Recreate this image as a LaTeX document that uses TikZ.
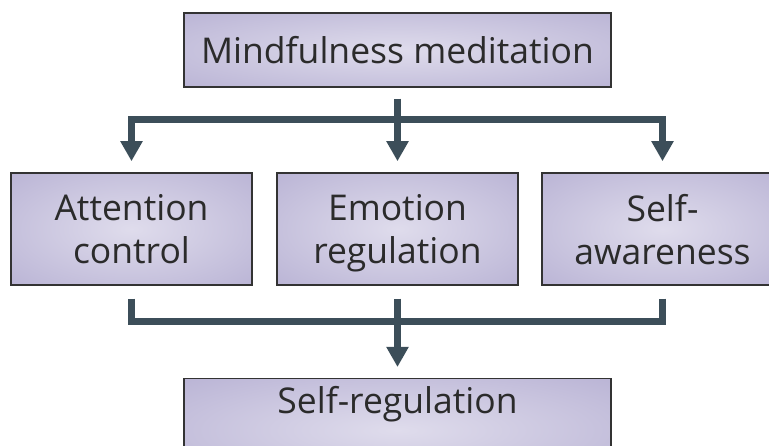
\documentclass[tikz,border=0pt]{standalone}
\usepackage{fontspec}
\setmainfont{Open Sans}
\usepackage{tikz}
\usetikzlibrary{arrows.meta,positioning}

\definecolor{boxin}{HTML}{DFDCEC}
\definecolor{boxout}{HTML}{B8B2D4}
\definecolor{boxline}{HTML}{333333}
\definecolor{linkc}{HTML}{3C4E59}
\definecolor{textc}{HTML}{2B2B2B}

\pgfdeclareradialshading{boxglow}{\pgfpointorigin}{color(0bp)=(boxin); color(38bp)=(boxout); color(75bp)=(boxout)}

\begin{document}
\begin{tikzpicture}[x=1pt,y=-1pt]
          %% mindfulness scheme

          \tikzstyle{every node}=[text=textc, font=\fontsize{35.5}{43}\selectfont]
          \tikzstyle{box}=[draw=boxline, line width=1.5pt, shading=boxglow, align=center, inner sep=0pt]
          \tikzstyle{midbox}=[box, minimum width=241pt, minimum height=112pt, text depth=0pt]
          \tikzstyle{link}=[draw=linkc, line width=7pt]
          \tikzstyle{arrow}=[link, -{Triangle[width=21pt,length=20pt]}, shorten >=11pt]

          \useasboundingbox (0,0) rectangle (769,446);

          % top
          \node[box, minimum width=427pt, minimum height=74pt] (mind) at (397.5,50) {Mindfulness meditation};

          % middle row
          \node[midbox] (attn) at (131.5,229) {Attention\\control};
          \node[midbox] (emot) at (397.5,229) {Emotion\\regulation};
          \node[midbox] (aware) at (662.5,229) {Self-\\awareness};

          % bottom
          \node[box, minimum width=427pt, anchor=north, inner ysep=8pt, text height=27pt, text depth=60pt] (selfreg) at (397.5,378) {Self-regulation};

          % split
          \coordinate (splitT) at (397.5,120);
          \path[arrow, shorten <=11pt] (mind.south) -- (emot.north);
          \path[arrow] (splitT) -| (attn.north);
          \path[arrow] (splitT) -| (aware.north);

          % join
          \coordinate (joinB) at (397.5,322);
          \path[link, shorten <=13pt] (attn.south) |- (joinB);
          \path[link, shorten <=13pt] (aware.south) |- (joinB);
          \path[arrow, shorten <=13pt] (emot.south) -- (selfreg.north);

        \end{tikzpicture}
\end{document}
